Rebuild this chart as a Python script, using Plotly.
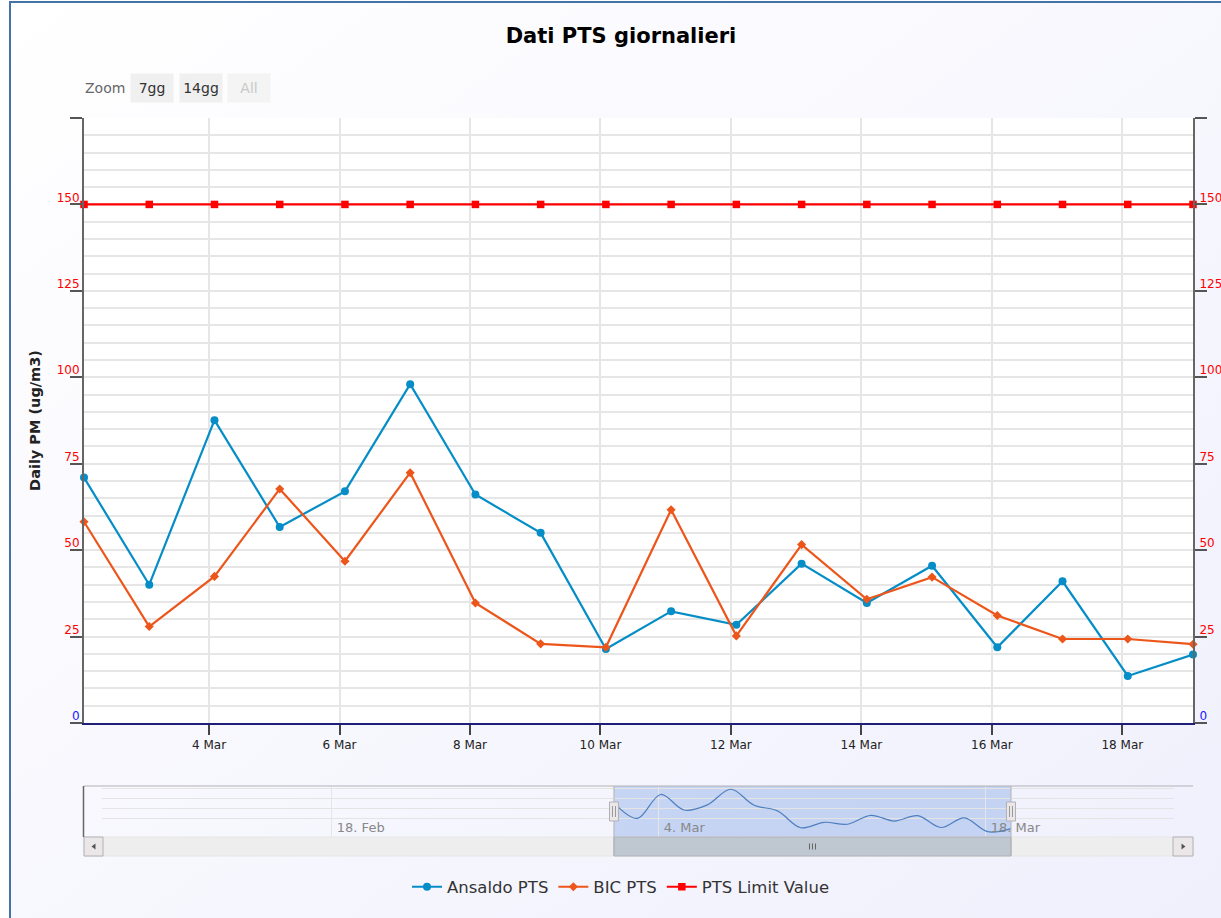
import base64
import pandas as pd
import plotly.graph_objects as go

W, H = 1221, 918

# ---------------- data ----------------
dates = ["2015-03-02 02:00", "2015-03-03 02:00", "2015-03-04 02:00", "2015-03-05 02:00",
         "2015-03-06 02:00", "2015-03-07 02:00", "2015-03-08 02:00", "2015-03-09 02:00",
         "2015-03-10 02:00", "2015-03-11 02:00", "2015-03-12 02:00", "2015-03-13 02:00",
         "2015-03-14 02:00", "2015-03-15 02:00", "2015-03-16 02:00", "2015-03-17 02:00",
         "2015-03-18 02:00", "2015-03-19 02:00"]
ansaldo = [71.0, 40.0, 87.6, 56.7, 67.0, 98.0, 66.1, 55.0, 21.4, 32.3,
           28.4, 46.1, 34.7, 45.5, 21.9, 41.0, 13.6, 19.8]
bic = [58.2, 27.9, 42.4, 67.7, 46.8, 72.4, 34.7, 22.9, 21.9, 61.7,
       25.2, 51.6, 35.8, 42.2, 31.1, 24.3, 24.3, 22.8]
limit = [150, 150, 150, 150, 150, 150, 150, 150, 150, 150,
         150, 150, 150, 150, 150, 150, 150, 150]

x_tickvals = ["2015-03-04", "2015-03-06", "2015-03-08", "2015-03-10",
              "2015-03-12", "2015-03-14", "2015-03-16", "2015-03-18"]
x_ticktext = ["4 Mar", "6 Mar", "8 Mar", "10 Mar", "12 Mar", "14 Mar", "16 Mar", "18 Mar"]
y_tickvals = [0, 25, 50, 75, 100, 125, 150, 175]
y_ticktext = ['<span style="color:#1a1aff">0</span>', "25", "50", "75", "100", "125", "150", ""]
nav_tickvals = ["2015-02-18", "2015-03-04", "2015-03-18"]
nav_ticktext = ["18. Feb", "4. Mar", "18. Mar"]
nav_range = ["2015-02-08 03:49", "2015-03-26 01:32"]
y_range = [0, 175]
nav_y_range = [3, 104.5]

series_names = ["Ansaldo PTS", "BIC PTS", "PTS Limit Value"]
zoom_buttons = ["7gg", "14gg", "All"]

FONT = "DejaVu Sans"


def px(x):
    return x / W


def py(y):
    return 1 - y / H


mid_date = pd.Timestamp(dates[0]) + (pd.Timestamp(dates[-1]) - pd.Timestamp(dates[0])) / 2

fig = go.Figure()

fig.add_trace(go.Scatter(
    x=dates, y=ansaldo, name=series_names[0], mode="lines+markers",
    line=dict(color="#058DC7", width=2.2),
    marker=dict(symbol="circle", size=8, color="#058DC7"),
    cliponaxis=False, xaxis="x", yaxis="y"))
fig.add_trace(go.Scatter(
    x=dates, y=bic, name=series_names[1], mode="lines+markers",
    line=dict(color="#ED561B", width=2.2),
    marker=dict(symbol="diamond", size=7, color="#ED561B"),
    cliponaxis=False, xaxis="x", yaxis="y"))
fig.add_trace(go.Scatter(
    x=dates, y=limit, name=series_names[2], mode="lines+markers",
    line=dict(color="#FF0000", width=2.2),
    marker=dict(symbol="square", size=7.5, color="#FF0000"),
    cliponaxis=False, xaxis="x", yaxis="y2"))
# navigator series
fig.add_trace(go.Scatter(
    x=dates, y=ansaldo, mode="lines", line=dict(color="#4f7fbf", width=1.2, shape="spline"),
    showlegend=False, hoverinfo="skip", xaxis="x2", yaxis="y3"))

main_xdom = [px(84), px(1193)]
main_ydom = [py(723), py(118)]
nav_xdom = [px(102), px(1174)]
nav_ydom = [py(837), py(786)]

# background gradient
svg = ('<svg xmlns="http://www.w3.org/2000/svg" width="1221" height="918">'
       '<defs><linearGradient id="g" x1="0" y1="0" x2="1" y2="1">'
       '<stop offset="0" stop-color="rgb(255,255,255)"/>'
       '<stop offset="1" stop-color="rgb(240,240,253)"/></linearGradient></defs>'
       '<rect x="10" y="2" width="1211" height="916" fill="url(#g)"/></svg>')
img_src = "data:image/svg+xml;base64," + base64.b64encode(svg.encode()).decode()

shapes = []
# white plot area background
shapes.append(dict(type="rect", xref="x domain", yref="y domain", x0=0, x1=1, y0=0, y1=1,
                   fillcolor="white", line=dict(width=0), layer="below"))
# scrollbar track
shapes.append(dict(type="rect", xref="paper", yref="paper", x0=px(84), x1=px(1193),
                   y0=py(856), y1=py(837), fillcolor="#eeeeee", line=dict(color="#e6e6e6", width=1)))
# buttons
for bx0, bx1 in [(84, 103), (1173, 1193)]:
    shapes.append(dict(type="rect", xref="paper", yref="paper", x0=px(bx0), x1=px(bx1),
                       y0=py(856), y1=py(837), fillcolor="#ebe7e8", line=dict(color="#b2b1b6", width=1)))
# arrows
shapes.append(dict(type="path", xref="paper", yref="paper",
                   path=f"M{px(95.5)},{py(843.5)} L{px(95.5)},{py(849.5)} L{px(91.5)},{py(846.5)} Z",
                   fillcolor="#555", line=dict(width=0)))
shapes.append(dict(type="path", xref="paper", yref="paper",
                   path=f"M{px(1181.5)},{py(843.5)} L{px(1181.5)},{py(849.5)} L{px(1185.5)},{py(846.5)} Z",
                   fillcolor="#555", line=dict(width=0)))
# navigator mask
shapes.append(dict(type="rect", xref="x2", yref="paper", x0=dates[0], x1=dates[-1],
                   y0=py(837), y1=py(786), fillcolor="rgba(90,140,220,0.30)", line=dict(width=0),
                   layer="below"))
# scrollbar thumb
shapes.append(dict(type="rect", xref="x2", yref="paper", x0=dates[0], x1=dates[-1],
                   y0=py(856), y1=py(837), fillcolor="#bfc8d1", line=dict(color="#b2b1b6", width=1)))
# thumb grip
for dx in (-3, 0, 3):
    shapes.append(dict(type="line", xref="x2", yref="paper", xsizemode="pixel", xanchor=mid_date,
                       x0=dx, x1=dx, y0=py(843.5), y1=py(849.5), line=dict(color="#666", width=1)))
# navigator outline
shapes.append(dict(type="line", xref="paper", yref="paper", x0=px(84), x1=px(1193),
                   y0=py(786), y1=py(786), line=dict(color="#b2b1b6", width=1)))
shapes.append(dict(type="line", xref="paper", yref="paper", x0=px(83.5), x1=px(83.5),
                   y0=py(786), y1=py(837), line=dict(color="#666", width=1.5)))
for d in (dates[0], dates[-1]):
    shapes.append(dict(type="line", xref="x2", yref="paper", x0=d, x1=d,
                       y0=py(786), y1=py(856), line=dict(color="#b2b1b6", width=1)))
# handles
for d in (dates[0], dates[-1]):
    shapes.append(dict(type="rect", xref="x2", yref="paper", xsizemode="pixel", xanchor=d,
                       x0=-4.5, x1=4.5, y0=py(821), y1=py(802),
                       fillcolor="#ebe7e8", line=dict(color="#b2b1b6", width=1)))
    for dx in (-1.5, 1.5):
        shapes.append(dict(type="line", xref="x2", yref="paper", xsizemode="pixel", xanchor=d,
                           x0=dx, x1=dx, y0=py(817), y1=py(806), line=dict(color="#999", width=1)))
# chart border
shapes.append(dict(type="rect", xref="paper", yref="paper", x0=px(10), x1=px(1260),
                   y0=py(960), y1=py(2), line=dict(color="#4572A7", width=2), fillcolor="rgba(0,0,0,0)"))

annotations = [
    dict(text="Zoom", x=px(105), y=py(88), xref="paper", yref="paper", showarrow=False,
         xanchor="center", yanchor="middle", font=dict(size=14, color="#666", family=FONT)),
]
for label, cx, col, bg in zip(zoom_buttons, [152, 200.5, 249], ["#333", "#333", "#c8c8c8"],
                              ["#f0f0f0", "#f0f0f0", "#f4f4f4"]):
    annotations.append(dict(text=label, x=px(cx), y=py(88.5), xref="paper", yref="paper",
                            showarrow=False, xanchor="center", yanchor="middle",
                            width=42, height=28, bgcolor=bg, borderpad=0,
                            font=dict(size=14, color=col, family=FONT)))

grid_col = "#e6e6e6"

fig.update_layout(
    width=W, height=H,
    margin=dict(l=0, r=0, t=0, b=0, pad=0),
    paper_bgcolor="white",
    plot_bgcolor="rgba(0,0,0,0)",
    font=dict(family=FONT, color="#333"),
    title=dict(text="<b>Dati PTS giornalieri</b>", x=px(621), y=py(36), xref="paper", yref="paper",
               xanchor="center", yanchor="middle", font=dict(size=21, color="#000", family=FONT)),
    showlegend=True,
    legend=dict(orientation="h", x=px(621), xanchor="center", y=py(887), yanchor="middle",
                font=dict(size=16.5, color="#333", family=FONT), bgcolor="rgba(0,0,0,0)"),
    images=[dict(source=img_src, xref="paper", yref="paper", x=0, y=1, sizex=1, sizey=1,
                 xanchor="left", yanchor="top", sizing="stretch", layer="below")],
    shapes=shapes,
    annotations=annotations,
    xaxis=dict(domain=main_xdom, anchor="y", type="date", range=[dates[0], dates[-1]],
               tickmode="array", tickvals=x_tickvals, ticktext=x_ticktext,
               ticks="outside", ticklen=10, tickwidth=1.5, tickcolor="#444",
               showline=True, linecolor="#1f1f7a", linewidth=2,
               showgrid=True, gridcolor=grid_col, gridwidth=2, zeroline=False,
               tickfont=dict(size=12, color="#222"), automargin=False),
    yaxis=dict(domain=main_ydom, anchor="x", range=y_range,
               tickmode="array", tickvals=y_tickvals, ticktext=y_ticktext,
               ticks="outside", ticklen=12, tickwidth=1.5, tickcolor="#555",
               showline=True, linecolor="#666", linewidth=2,
               showgrid=True, gridcolor=grid_col, gridwidth=2, zeroline=False,
               minor=dict(tickmode="linear", tick0=0, dtick=5, showgrid=True,
                          gridcolor=grid_col, gridwidth=2, ticks=""),
               tickfont=dict(size=12, color="#ff0000"),
               ticklabelshift=-7, ticklabelstandoff=-12,
               title=dict(text="<b>Daily PM (ug/m3)</b>", standoff=13,
                          font=dict(size=14.5, color="#222", family=FONT)),
               automargin=False),
    yaxis2=dict(overlaying="y", side="right", anchor="x", range=y_range,
                tickmode="array", tickvals=y_tickvals, ticktext=y_ticktext,
                ticks="outside", ticklen=12, tickwidth=1.5, tickcolor="#555",
                showline=True, linecolor="#666", linewidth=2,
                showgrid=False, zeroline=False,
                tickfont=dict(size=12, color="#ff0000"),
                ticklabelshift=-7, ticklabelstandoff=-10, automargin=False),
    xaxis2=dict(domain=nav_xdom, anchor="y3", type="date", range=nav_range,
                tickmode="array", tickvals=nav_tickvals, ticktext=nav_ticktext,
                ticks="", showline=False, showgrid=True, gridcolor="#e6e6e6", gridwidth=1,
                zeroline=False, ticklabelposition="inside right", ticklabelshift=5,
                ticklabelstandoff=-4,
                tickfont=dict(size=13, color="#888"), automargin=False),
    yaxis3=dict(domain=nav_ydom, anchor="x2", range=nav_y_range, tick0=0, dtick=20,
                showticklabels=False, ticks="", showgrid=True, gridcolor="#e4e4e4", gridwidth=1,
                zeroline=False, showline=False, automargin=False),
    hovermode=False,
)

fig.write_html("out.html", config={"displayModeBar": False},
               post_script="document.body.style.margin='0';document.body.style.overflow='hidden';")
